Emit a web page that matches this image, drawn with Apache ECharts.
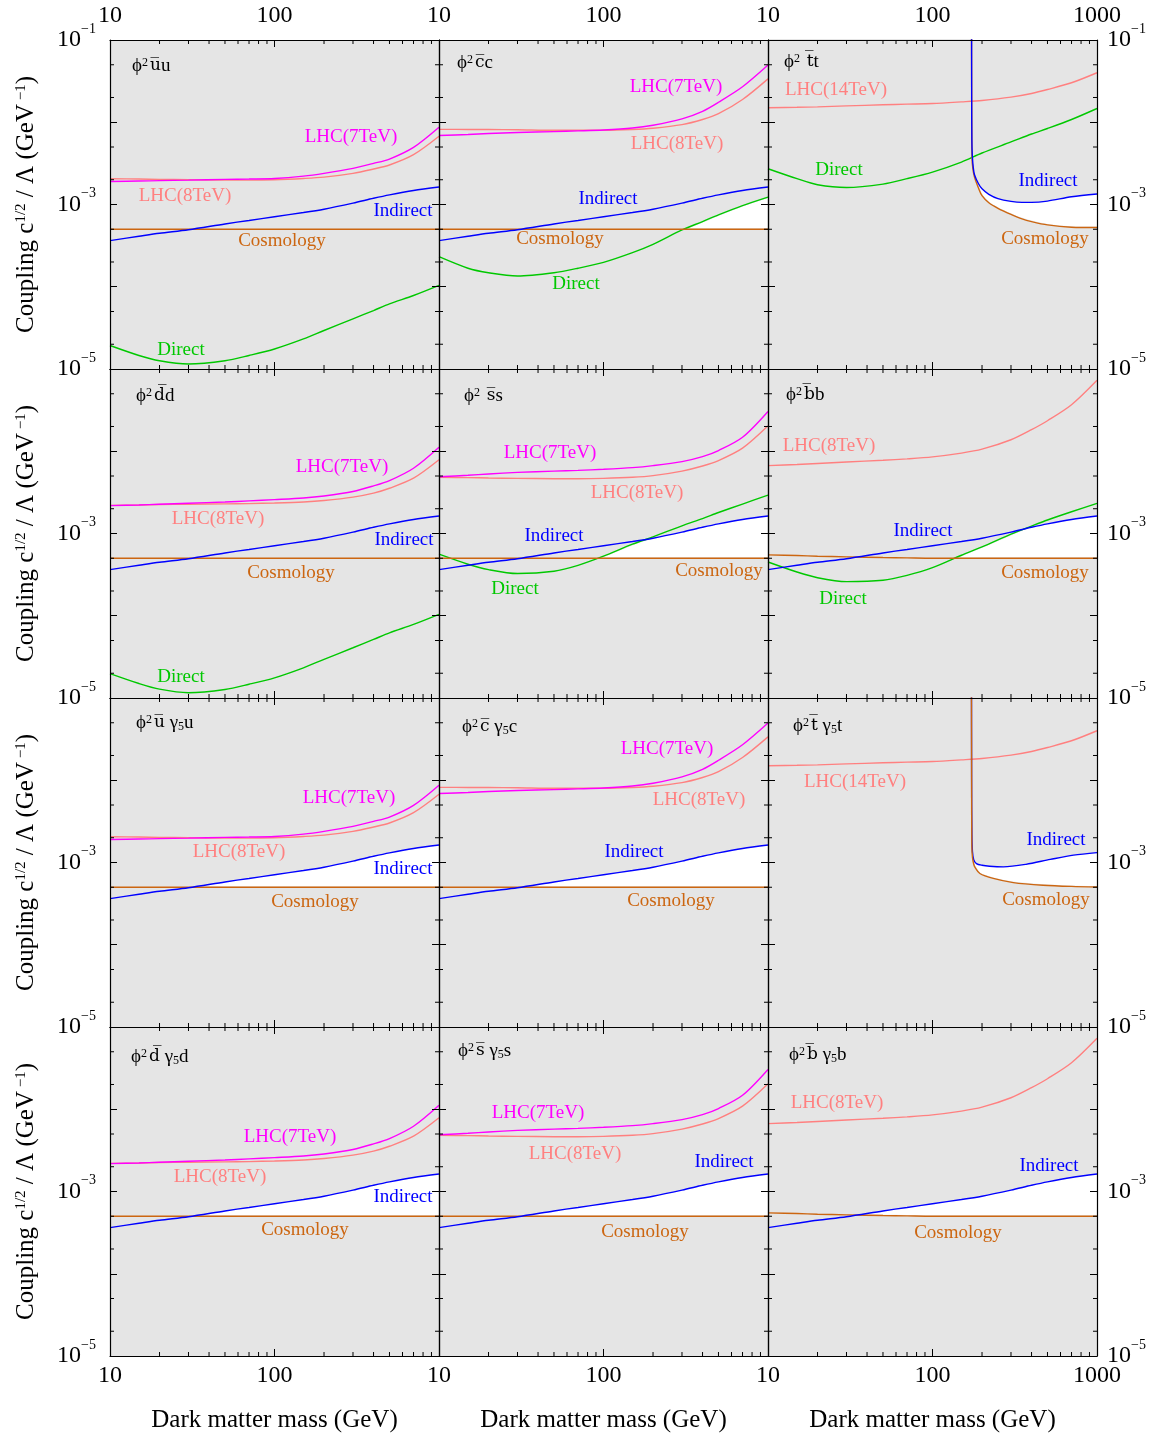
<!DOCTYPE html>
<html><head><meta charset="utf-8">
<script src="https://cdn.jsdelivr.net/npm/echarts@6/dist/echarts.min.js"></script>
<style>html,body{margin:0;padding:0;background:#fff}#c{width:1155px;height:1439px}</style>
</head><body><div id="c"></div>
<script>
// ---------- data ----------
const MASS = [10, 15, 20, 30, 50, 70, 100, 150, 200, 300, 400, 500, 700, 1000];
const X_MINOR = [20, 30, 40, 50, 60, 70, 80, 90, 200, 300, 400, 500, 600, 700, 800, 900];
const Y_MINOR = [2e-5, 5e-5, 2e-4, 5e-4, 2e-3, 5e-3, 2e-2, 5e-2];

const cosmoLight = [5.0e-4, 5.0e-4, 5.0e-4, 5.0e-4, 5.0e-4, 5.0e-4, 5.0e-4, 5.0e-4, 5.0e-4, 5.0e-4, 5.0e-4, 5.0e-4, 5.0e-4, 5.0e-4];
const cosmoB = [5.5e-4, 5.4e-4, 5.3e-4, 5.2e-4, 5.1e-4, 5.05e-4, 5.0e-4, 5.0e-4, 5.0e-4, 5.0e-4, 5.0e-4, 5.0e-4, 5.0e-4, 5.0e-4];
const indirect = [3.64e-4, 4.11e-4, 4.47e-4, 4.93e-4, 5.8e-4, 6.4e-4, 7.1e-4, 7.98e-4, 8.77e-4, 1.04e-3, 1.19e-3, 1.31e-3, 1.48e-3, 1.63e-3];

const u7 = [1.9e-3, 1.93e-3, 1.95e-3, 1.98e-3, 2.02e-3, 2.04e-3, 2.07e-3, 2.21e-3, 2.39e-3, 2.75e-3, 3.16e-3, 3.57e-3, 4.95e-3, 8.7e-3];
const u8 = [2.06e-3, 2.04e-3, 2.02e-3, 2.0e-3, 1.98e-3, 1.98e-3, 2.0e-3, 2.07e-3, 2.15e-3, 2.39e-3, 2.7e-3, 3.02e-3, 4.03e-3, 6.75e-3];
const uDirect = [1.93e-5, 1.46e-5, 1.26e-5, 1.15e-5, 1.26e-5, 1.46e-5, 1.75e-5, 2.32e-5, 2.94e-5, 4.07e-5, 5.14e-5, 6.2e-5, 7.83e-5, 1.04e-4];

const c7 = [6.9e-3, 7.1e-3, 7.3e-3, 7.5e-3, 7.7e-3, 7.85e-3, 8.05e-3, 8.5e-3, 9.2e-3, 1.1e-2, 1.36e-2, 1.75e-2, 2.7e-2, 4.96e-2];
const c8 = [8.2e-3, 8.17e-3, 8.15e-3, 8.1e-3, 7.98e-3, 7.98e-3, 7.98e-3, 8.15e-3, 8.45e-3, 9.35e-3, 1.08e-2, 1.27e-2, 1.89e-2, 3.37e-2];
const cDirect = [2.32e-4, 1.68e-4, 1.48e-4, 1.35e-4, 1.48e-4, 1.68e-4, 1.98e-4, 2.6e-4, 3.28e-4, 4.91e-4, 6.2e-4, 7.48e-4, 9.7e-4, 1.23e-3];

const t14 = [1.5e-2, 1.52e-2, 1.54e-2, 1.58e-2, 1.63e-2, 1.66e-2, 1.69e-2, 1.77e-2, 1.84e-2, 2.02e-2, 2.24e-2, 2.5e-2, 3.02e-2, 4.0e-2];
const tDirect = [2.72e-3, 2.06e-3, 1.74e-3, 1.61e-3, 1.77e-3, 2.06e-3, 2.48e-3, 3.28e-3, 4.23e-3, 5.76e-3, 7.2e-3, 8.4e-3, 1.08e-2, 1.47e-2];
const ttIndM = [172.8, 173.0, 173.5, 174.5, 177, 180, 190, 200, 220, 250, 300, 350, 400, 500, 700, 1000];
const ttInd = [0.3, 2e-2, 6e-3, 4e-3, 2.8e-3, 2.3e-3, 1.8e-3, 1.55e-3, 1.33e-3, 1.18e-3, 1.09e-3, 1.06e-3, 1.06e-3, 1.1e-3, 1.24e-3, 1.34e-3];
const ttCosM = [172.4, 173.3, 173.8, 176, 180, 190, 200, 220, 250, 300, 350, 400, 500, 700, 1000];
const ttCos = [0.3, 1e-2, 3.7e-3, 2.7e-3, 2.15e-3, 1.6e-3, 1.28e-3, 1.05e-3, 9.0e-4, 7.6e-4, 6.7e-4, 6.2e-4, 5.65e-4, 5.3e-4, 5.25e-4];
const t5IndM = [172.6, 172.9, 173.6, 175, 178, 185, 200, 222, 270, 370, 520, 720, 1000];
const t5Ind = [0.3, 1e-2, 2.2e-3, 1.35e-3, 1.08e-3, 9.7e-4, 9.25e-4, 9.0e-4, 8.85e-4, 9.5e-4, 1.09e-3, 1.23e-3, 1.32e-3];
const t5CosM = [172.3, 172.9, 173.4, 175, 178, 181, 194, 234, 310, 470, 700, 1000];
const t5Cos = [0.3, 1e-2, 1.6e-3, 1.15e-3, 9.6e-4, 8.8e-4, 7.35e-4, 6.4e-4, 5.7e-4, 5.3e-4, 5.12e-4, 5.04e-4];

const d7 = [2.18e-3, 2.22e-3, 2.27e-3, 2.33e-3, 2.42e-3, 2.49e-3, 2.58e-3, 2.7e-3, 2.86e-3, 3.24e-3, 3.79e-3, 4.4e-3, 6.22e-3, 1.12e-2];
const d8 = [2.2e-3, 2.22e-3, 2.25e-3, 2.27e-3, 2.29e-3, 2.31e-3, 2.35e-3, 2.42e-3, 2.52e-3, 2.77e-3, 3.1e-3, 3.55e-3, 4.7e-3, 7.87e-3];
const dDirect = [1.98e-5, 1.5e-5, 1.28e-5, 1.16e-5, 1.27e-5, 1.47e-5, 1.76e-5, 2.33e-5, 2.95e-5, 4.08e-5, 5.15e-5, 6.2e-5, 7.85e-5, 1.04e-4];

const s7 = [4.9e-3, 5.1e-3, 5.3e-3, 5.53e-3, 5.74e-3, 5.85e-3, 6.03e-3, 6.32e-3, 6.69e-3, 7.49e-3, 8.6e-3, 1.02e-2, 1.48e-2, 3.05e-2];
const s8 = [4.82e-3, 4.78e-3, 4.73e-3, 4.68e-3, 4.64e-3, 4.64e-3, 4.68e-3, 4.82e-3, 5.05e-3, 5.74e-3, 6.62e-3, 7.7e-3, 1.09e-2, 2.04e-2];
const sDirect = [5.6e-4, 4.23e-4, 3.64e-4, 3.26e-4, 3.48e-4, 4.1e-4, 5.3e-4, 7.41e-4, 9.1e-4, 1.24e-3, 1.52e-3, 1.8e-3, 2.28e-3, 2.93e-3];

const b8 = [6.68e-3, 6.9e-3, 7.1e-3, 7.4e-3, 7.76e-3, 8.08e-3, 8.55e-3, 9.5e-3, 1.06e-2, 1.38e-2, 1.83e-2, 2.35e-2, 3.67e-2, 7.28e-2];
const bDirect = [4.5e-4, 3.4e-4, 2.9e-4, 2.6e-4, 2.7e-4, 3.1e-4, 3.85e-4, 5.44e-4, 6.87e-4, 9.8e-4, 1.23e-3, 1.46e-3, 1.84e-3, 2.32e-3];

const X_LABEL = 'Dark matter mass (GeV)';
const Y_LABEL = '{n|Coupling c}{p|1/2}{n| / Λ (GeV}{p| \u22121}{n|)}';

// ---------- layout & style ----------
const FONT = '"Liberation Serif","Times New Roman",Times,serif';
const BARFONT = '"DejaVu Serif","Liberation Serif",serif';
const XMIN = 10, XMAX = 1000, YMIN = 1e-5, YMAX = 1e-1;
const OFF_TOP = 1; // below the top-quark threshold the relic bound lies off the chart (whole column excluded)
const GL = [110, 439, 768], GT = [40, 369, 698, 1027], GW = 329, GH = 329;
const COL = {lhc7: '#ff00ff', lhc8: '#ff8080', lhc14: '#ff8080', ind: '#0000ff', cos: '#cc6611', dir: '#00c800'};
const GRAY = '#e5e5e5';

const PH = '{n|\u03D5}{p|2}';
const PANELS = [
  {title: PH + '{o|u\u0305}{n|u}', tx: 22, ty: 26,
   lines: [['dir', MASS, uDirect], ['cos', MASS, cosmoLight], ['ind', MASS, indirect], ['lhc8', MASS, u8], ['lhc7', MASS, u7]],
   fills: {ind: [MASS, indirect], cos: [MASS, cosmoLight], dir: [MASS, uDirect]},
   labels: [['LHC(7TeV)', 'lhc7', 241, 97], ['LHC(8TeV)', 'lhc8', 75, 156], ['Indirect', 'ind', 293, 171], ['Cosmology', 'cos', 172, 201], ['Direct', 'dir', 71, 310]]},
  {title: PH + '{o|c\u0305}{n|c}', tx: 18, ty: 23,
   lines: [['dir', MASS, cDirect], ['cos', MASS, cosmoLight], ['ind', MASS, indirect], ['lhc8', MASS, c8], ['lhc7', MASS, c7]],
   fills: {ind: [MASS, indirect], cos: [MASS, cosmoLight], dir: [MASS, cDirect]},
   labels: [['LHC(7TeV)', 'lhc7', 237, 47], ['LHC(8TeV)', 'lhc8', 238, 104], ['Indirect', 'ind', 169, 159], ['Cosmology', 'cos', 121, 199], ['Direct', 'dir', 137, 244]]},
  {title: PH + '{n| }{o|t\u0305}{n|t}', tx: 16, ty: 22,
   lines: [['lhc14', MASS, t14], ['dir', MASS, tDirect], ['cos', ttCosM, ttCos], ['ind', ttIndM, ttInd]],
   fills: {ind: [ttIndM, ttInd], cos: [ttCosM, ttCos], dir: [MASS, tDirect], cosPad: true},
   labels: [['LHC(14TeV)', 'lhc14', 68, 50], ['Direct', 'dir', 71, 130], ['Indirect', 'ind', 280, 141], ['Cosmology', 'cos', 277, 199]]},
  {title: PH + '{o|d\u0305}{n|d}', tx: 26, ty: 27,
   lines: [['dir', MASS, dDirect], ['cos', MASS, cosmoLight], ['ind', MASS, indirect], ['lhc8', MASS, d8], ['lhc7', MASS, d7]],
   fills: {ind: [MASS, indirect], cos: [MASS, cosmoLight], dir: [MASS, dDirect]},
   labels: [['LHC(7TeV)', 'lhc7', 232, 98], ['LHC(8TeV)', 'lhc8', 108, 150], ['Indirect', 'ind', 294, 171], ['Cosmology', 'cos', 181, 204], ['Direct', 'dir', 71, 308]]},
  {title: PH + '{n| }{o|s\u0305}{n|s}', tx: 25, ty: 27,
   lines: [['dir', MASS, sDirect], ['cos', MASS, cosmoLight], ['ind', MASS, indirect], ['lhc8', MASS, s8], ['lhc7', MASS, s7]],
   fills: {ind: [MASS, indirect], cos: [MASS, cosmoLight], dir: [MASS, sDirect]},
   labels: [['LHC(7TeV)', 'lhc7', 111, 84], ['LHC(8TeV)', 'lhc8', 198, 124], ['Indirect', 'ind', 115, 167], ['Cosmology', 'cos', 280, 202], ['Direct', 'dir', 76, 220]]},
  {title: PH + '{o|b\u0305}{n|b}', tx: 18, ty: 26,
   lines: [['dir', MASS, bDirect], ['cos', MASS, cosmoB], ['ind', MASS, indirect], ['lhc8', MASS, b8]],
   fills: {ind: [MASS, indirect], cos: [MASS, cosmoB], dir: [MASS, bDirect]},
   labels: [['LHC(8TeV)', 'lhc8', 61, 77], ['Indirect', 'ind', 155, 162], ['Cosmology', 'cos', 277, 204], ['Direct', 'dir', 75, 230]]},
  {title: PH + '{o|u\u0305}{n| γ}{q|5}{n|u}', tx: 26, ty: 25,
   lines: [['cos', MASS, cosmoLight], ['ind', MASS, indirect], ['lhc8', MASS, u8], ['lhc7', MASS, u7]],
   fills: {ind: [MASS, indirect], cos: [MASS, cosmoLight]},
   labels: [['LHC(7TeV)', 'lhc7', 239, 100], ['LHC(8TeV)', 'lhc8', 129, 154], ['Indirect', 'ind', 293, 171], ['Cosmology', 'cos', 205, 204]]},
  {title: PH + '{o|c\u0305}{n| γ}{q|5}{n|c}', tx: 23, ty: 29,
   lines: [['cos', MASS, cosmoLight], ['ind', MASS, indirect], ['lhc8', MASS, c8], ['lhc7', MASS, c7]],
   fills: {ind: [MASS, indirect], cos: [MASS, cosmoLight]},
   labels: [['LHC(7TeV)', 'lhc7', 228, 51], ['LHC(8TeV)', 'lhc8', 260, 102], ['Indirect', 'ind', 195, 154], ['Cosmology', 'cos', 232, 203]]},
  {title: PH + '{o|t\u0305}{n| γ}{q|5}{n|t}', tx: 25, ty: 28,
   lines: [['lhc14', MASS, t14], ['ind', t5IndM, t5Ind], ['cos', t5CosM, t5Cos]],
   fills: {ind: [t5IndM, t5Ind], cos: [t5CosM, t5Cos], cosPad: true},
   labels: [['LHC(14TeV)', 'lhc14', 87, 84], ['Indirect', 'ind', 288, 142], ['Cosmology', 'cos', 278, 202]]},
  {title: PH + '{o|d\u0305}{n| γ}{q|5}{n|d}', tx: 21, ty: 30,
   lines: [['cos', MASS, cosmoLight], ['ind', MASS, indirect], ['lhc8', MASS, d8], ['lhc7', MASS, d7]],
   fills: {ind: [MASS, indirect], cos: [MASS, cosmoLight]},
   labels: [['LHC(7TeV)', 'lhc7', 180, 110], ['LHC(8TeV)', 'lhc8', 110, 150], ['Indirect', 'ind', 293, 170], ['Cosmology', 'cos', 195, 203]]},
  {title: PH + '{o|s\u0305}{n| γ}{q|5}{n|s}', tx: 19, ty: 24,
   lines: [['cos', MASS, cosmoLight], ['ind', MASS, indirect], ['lhc8', MASS, s8], ['lhc7', MASS, s7]],
   fills: {ind: [MASS, indirect], cos: [MASS, cosmoLight]},
   labels: [['LHC(7TeV)', 'lhc7', 99, 86], ['LHC(8TeV)', 'lhc8', 136, 127], ['Indirect', 'ind', 285, 135], ['Cosmology', 'cos', 206, 205]]},
  {title: PH + '{o|b\u0305}{n| γ}{q|5}{n|b}', tx: 21, ty: 28,
   lines: [['cos', MASS, cosmoB], ['ind', MASS, indirect], ['lhc8', MASS, b8]],
   fills: {ind: [MASS, indirect], cos: [MASS, cosmoB]},
   labels: [['LHC(8TeV)', 'lhc8', 69, 76], ['Indirect', 'ind', 281, 139], ['Cosmology', 'cos', 190, 206]]}
];

// ---------- build ----------
const pairs = (ms, vs) => ms.map((m, i) => [m, vs[i]]);
const grids = [], xAxes = [], yAxes = [], series = [], graphics = [];
const tickLabelRich = {
  b: {fontSize: 24, fontFamily: FONT, color: '#000', padding: [6, 0, 6, 0]},
  s: {fontSize: 14, fontFamily: FONT, color: '#000', verticalAlign: 'top'}
};
const makeYFmt = showTop => v => {
  const e = Math.round(Math.log10(v));
  if (e % 2 === 0) return '';
  if (e === -1 && !showTop) return '';
  return '{b|10}{s|\u2212' + (-e) + '}';
};
const makeXFmt = showLast => v => {
  const n = Math.round(v);
  if (n >= 1000 && !showLast) return '';
  return String(n);
};
const axisLine = {show: true, onZero: false, lineStyle: {color: '#000', width: 1.2}};
const axisTick = {show: true, inside: true, length: 7, lineStyle: {color: '#000', width: 1}};

PANELS.forEach((p, i) => {
  const r = Math.floor(i / 3), c = i % 3;
  grids.push({left: GL[c], top: GT[r], width: GW, height: GH, show: true, backgroundColor: GRAY, borderWidth: 0});
  const xBase = {type: 'log', logBase: 10, gridIndex: i, min: XMIN, max: XMAX, axisLine, axisTick,
    splitLine: {show: false}, minorTick: {show: false}, z: 5};
  xAxes.push(Object.assign({}, xBase, {position: 'bottom',
    axisLabel: {show: r === 3, margin: 8, color: '#000', fontSize: 24, fontFamily: FONT, formatter: makeXFmt(c === 2)}}));
  xAxes.push(Object.assign({}, xBase, {position: 'top',
    axisLabel: {show: r === 0, margin: 12, color: '#000', fontSize: 24, fontFamily: FONT, formatter: makeXFmt(c === 2)}}));
  const yBase = {type: 'log', logBase: 10, gridIndex: i, min: YMIN, max: YMAX, axisLine, axisTick,
    splitLine: {show: false}, minorTick: {show: false}, z: 5};
  yAxes.push(Object.assign({}, yBase, {position: 'left',
    axisLabel: {show: c === 0, margin: 14, formatter: makeYFmt(r === 0), rich: tickLabelRich}}));
  yAxes.push(Object.assign({}, yBase, {position: 'right',
    axisLabel: {show: c === 2, margin: 10, formatter: makeYFmt(r === 0), rich: tickLabelRich}}));

  const xi = 2 * i, yi = 2 * i;
  const common = {xAxisIndex: xi, yAxisIndex: yi, type: 'line', smooth: 0.3,
    symbol: 'none', showSymbol: false, silent: true, animation: false, clip: true};
  // allowed (white) region: below Indirect, above Cosmology, below Direct
  const f = p.fills;
  const cosFill = pairs(f.cos[0], f.cos[1]);
  if (f.cosPad) cosFill.unshift([XMIN, OFF_TOP]);
  series.push(Object.assign({}, common, {data: pairs(f.ind[0], f.ind[1]), z: 1,
    lineStyle: {width: 0, opacity: 0}, areaStyle: {color: '#ffffff', opacity: 1, origin: YMIN}}));
  series.push(Object.assign({}, common, {data: cosFill, z: 1,
    lineStyle: {width: 2, color: GRAY, opacity: 1}, areaStyle: {color: GRAY, opacity: 1, origin: YMIN}}));
  if (f.dir) series.push(Object.assign({}, common, {data: pairs(f.dir[0], f.dir[1]), z: 1,
    lineStyle: {width: 2, color: GRAY, opacity: 1}, areaStyle: {color: GRAY, opacity: 1, origin: YMAX}}));
  p.lines.forEach(([k, ms, vs]) => {
    series.push(Object.assign({}, common, {data: pairs(ms, vs), z: 3,
      lineStyle: {color: COL[k], width: 1.4}}));
  });
  // minor ticks on all four sides
  const tdata = X_MINOR.map(m => [m, YMIN, 0]).concat(Y_MINOR.map(v => [XMIN, v, 1]));
  series.push({type: 'custom', xAxisIndex: xi, yAxisIndex: yi, data: tdata, z: 6, silent: true, animation: false, clip: false,
    renderItem(params, api) {
      const st = {stroke: '#000', lineWidth: 1};
      if (api.value(2) === 0) {
        const m = api.value(0);
        const b = api.coord([m, YMIN]), t = api.coord([m, YMAX]);
        return {type: 'group', children: [
          {type: 'line', shape: {x1: b[0], y1: b[1], x2: b[0], y2: b[1] - 4}, style: st},
          {type: 'line', shape: {x1: t[0], y1: t[1], x2: t[0], y2: t[1] + 4}, style: st}]};
      }
      const v = api.value(1);
      const l = api.coord([XMIN, v]), rr = api.coord([XMAX, v]);
      return {type: 'group', children: [
        {type: 'line', shape: {x1: l[0], y1: l[1], x2: l[0] + 4, y2: l[1]}, style: st},
        {type: 'line', shape: {x1: rr[0], y1: rr[1], x2: rr[0] - 4, y2: rr[1]}, style: st}]};
    }});

  // panel title and curve labels
  graphics.push({type: 'text', x: GL[c] + p.tx, y: GT[r] + p.ty, z: 10, silent: true,
    style: {text: p.title, align: 'left', verticalAlign: 'middle',
      rich: {n: {fontSize: 19, fontFamily: FONT, fill: '#000', color: '#000'},
             o: {fontSize: 17, fontFamily: BARFONT, fill: '#000', color: '#000'},
             p: {fontSize: 12, fontFamily: FONT, fill: '#000', color: '#000', verticalAlign: 'top', padding: [0, 2, 0, 0]},
             q: {fontSize: 12, fontFamily: FONT, fill: '#000', color: '#000', verticalAlign: 'bottom'}}}});
  p.labels.forEach(([txt, k, dx, dy]) => {
    graphics.push({type: 'text', x: GL[c] + dx, y: GT[r] + dy, z: 10, silent: true,
      style: {text: txt, fill: COL[k], font: '19px ' + FONT, align: 'center', verticalAlign: 'middle'}});
  });
});

// axis titles
for (let r = 0; r < 4; r++) {
  graphics.push({type: 'text', x: 26, y: GT[r] + GH / 2, rotation: Math.PI / 2, z: 10, silent: true,
    style: {text: Y_LABEL, align: 'center', verticalAlign: 'middle',
      rich: {n: {fontSize: 25, fontFamily: FONT, fill: '#000', color: '#000'},
             p: {fontSize: 15, fontFamily: FONT, fill: '#000', color: '#000', verticalAlign: 'top'}}}});
}
for (let c = 0; c < 3; c++) {
  graphics.push({type: 'text', x: GL[c] + GW / 2, y: 1420, z: 10, silent: true,
    style: {text: X_LABEL, fill: '#000', font: '25px ' + FONT, align: 'center', verticalAlign: 'middle'}});
}

const chart = echarts.init(document.getElementById('c'), null, {renderer: 'canvas'});
chart.setOption({animation: false, backgroundColor: '#ffffff', grid: grids, xAxis: xAxes, yAxis: yAxes, series, graphic: {elements: graphics}});
</script>
</body></html>
